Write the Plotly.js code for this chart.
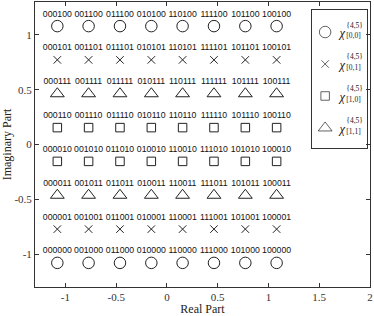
<!DOCTYPE html>
<html><head><meta charset="utf-8">
<script src="https://cdn.plot.ly/plotly-3.0.1.min.js"></script>
<style>html,body{margin:0;padding:0;background:#fff}#plot{width:374px;height:316px}</style>
</head><body><div id="plot"></div>
<script>
// Constellation amplitude levels (real / imaginary)
var levels = [-1.080, -0.772, -0.463, -0.154, 0.154, 0.463, 0.772, 1.080];
// Bit prefixes for each column (real part), left to right
var colBits = ['000', '001', '011', '010', '110', '111', '101', '100'];
// Bit suffixes for each row (imag part), bottom to top
var rowBits = ['000', '001', '011', '010', '110', '111', '101', '100'];
// Which subset each row belongs to (bottom to top)
var rowGroup = [0, 1, 3, 2, 2, 3, 1, 0];
// Subset names: superscript, subscript
var groupSup = ['{4,5}', '{4,5}', '{4,5}', '{4,5}'];
var groupSub = ['[0,0]', '[0,1]', '[1,0]', '[1,1]'];

var groupSymbols = ['circle-open', 'x-thin-open', 'square-open', 'triangle-up-open'];
var groupSizes = [11.5, 7.5, 8.5, 12];
var ink = '#222';

var traces = [];
for (var g = 0; g < 4; g++) {
  var xs = [], ys = [];
  for (var r = 0; r < 8; r++) {
    if (rowGroup[r] !== g) continue;
    for (var c = 0; c < 8; c++) { xs.push(levels[c]); ys.push(levels[r]); }
  }
  traces.push({
    x: xs, y: ys, type: 'scatter', mode: 'markers',
    name: 'χ<sup>' + groupSup[g] + '</sup><sub>' + groupSub[g] + '</sub>',
    marker: {symbol: groupSymbols[g], size: groupSizes[g], color: ink, line: {width: 1, color: ink}},
    hoverinfo: 'skip', showlegend: false
  });
}
// bit labels above each point
var tx = [], ty = [], tt = [];
for (var r = 0; r < 8; r++) for (var c = 0; c < 8; c++) {
  tx.push(levels[c]); ty.push(levels[r]); tt.push(colBits[c] + rowBits[r]);
}
traces.push({
  x: tx, y: ty, text: tt, type: 'scatter', mode: 'markers+text', textposition: 'top center',
  marker: {size: 10, opacity: 0}, showlegend: false, hoverinfo: 'skip',
  textfont: {family: 'Liberation Sans, Arial, sans-serif', size: 8.7, color: '#111'}
});

// ---- legend box drawn on its own small axes (rows 3..0, top to bottom) ----
var legRow = [], legKeyX = [], legChiX = [], legChiY = [], legIdxX = [], legSupY = [], legSubY = [];
for (var g = 0; g < 4; g++) {
  var row = 3 - g;
  legRow.push(row); legKeyX.push(0);
  legChiX.push(1.1); legChiY.push(row - 0.06);
  legIdxX.push(1.62); legSupY.push(row + 0.2); legSubY.push(row - 0.14);
}
traces.push({
  x: legKeyX, y: legRow, xaxis: 'x2', yaxis: 'y2', type: 'scatter', mode: 'markers',
  marker: {symbol: groupSymbols, size: groupSizes, color: ink, line: {width: 1, color: ink}},
  showlegend: false, hoverinfo: 'skip', cliponaxis: false
});
traces.push({
  x: legChiX, y: legChiY, xaxis: 'x2', yaxis: 'y2', type: 'scatter', mode: 'text',
  text: legRow.map(function () { return '<i>χ</i>'; }), textposition: 'middle right',
  textfont: {family: 'Liberation Serif, Times New Roman, serif', size: 12.5, color: ink},
  showlegend: false, hoverinfo: 'skip', cliponaxis: false
});
traces.push({
  x: legIdxX, y: legSupY, xaxis: 'x2', yaxis: 'y2', type: 'scatter', mode: 'text',
  text: groupSup, textposition: 'middle right',
  textfont: {family: 'Liberation Serif, Times New Roman, serif', size: 7.5, color: ink},
  showlegend: false, hoverinfo: 'skip', cliponaxis: false
});
traces.push({
  x: legIdxX, y: legSubY, xaxis: 'x2', yaxis: 'y2', type: 'scatter', mode: 'text',
  text: groupSub, textposition: 'middle right',
  textfont: {family: 'Liberation Serif, Times New Roman, serif', size: 7.5, color: ink},
  showlegend: false, hoverinfo: 'skip', cliponaxis: false
});

var serif = 'Liberation Serif, Times New Roman, serif';
var axisCommon = {
  showgrid: false, zeroline: false, showline: true, linecolor: '#333', linewidth: 1,
  mirror: 'allticks', ticks: 'inside', ticklen: 4, tickcolor: '#333',
  tickfont: {family: serif, size: 11, color: '#333'}
};
var legAxis = {
  showgrid: false, zeroline: false, showline: true, linecolor: '#333', linewidth: 1,
  mirror: true, ticks: '', showticklabels: false, fixedrange: true
};
var layout = {
  width: 374, height: 316,
  margin: {l: 35, r: 4, t: 2, b: 29},
  paper_bgcolor: '#fff', plot_bgcolor: 'rgba(0,0,0,0)',
  showlegend: false,
  xaxis: Object.assign({}, axisCommon, {
    range: [-1.3, 2], tickvals: [-1, -0.5, 0, 0.5, 1, 1.5, 2],
    ticktext: ['-1', '-0.5', '0', '0.5', '1', '1.5', '2'],
    title: {text: 'Real Part', font: {family: serif, size: 12, color: '#222'}, standoff: 4}
  }),
  yaxis: Object.assign({}, axisCommon, {
    range: [-1.3, 1.3], tickvals: [-1, -0.5, 0, 0.5, 1],
    ticktext: ['-1', '-0.5', '0', '0.5', '1'],
    title: {text: 'Imaginary Part', font: {family: serif, size: 12, color: '#222'}, standoff: 6}
  }),
  xaxis2: Object.assign({}, legAxis, {domain: [0.827, 0.991], range: [-1, 3.2], anchor: 'y2'}),
  yaxis2: Object.assign({}, legAxis, {domain: [0.488, 0.972], range: [-0.625, 3.69], anchor: 'x2'})
};
Plotly.newPlot('plot', traces, layout, {displayModeBar: false, staticPlot: true});
</script></body></html>
